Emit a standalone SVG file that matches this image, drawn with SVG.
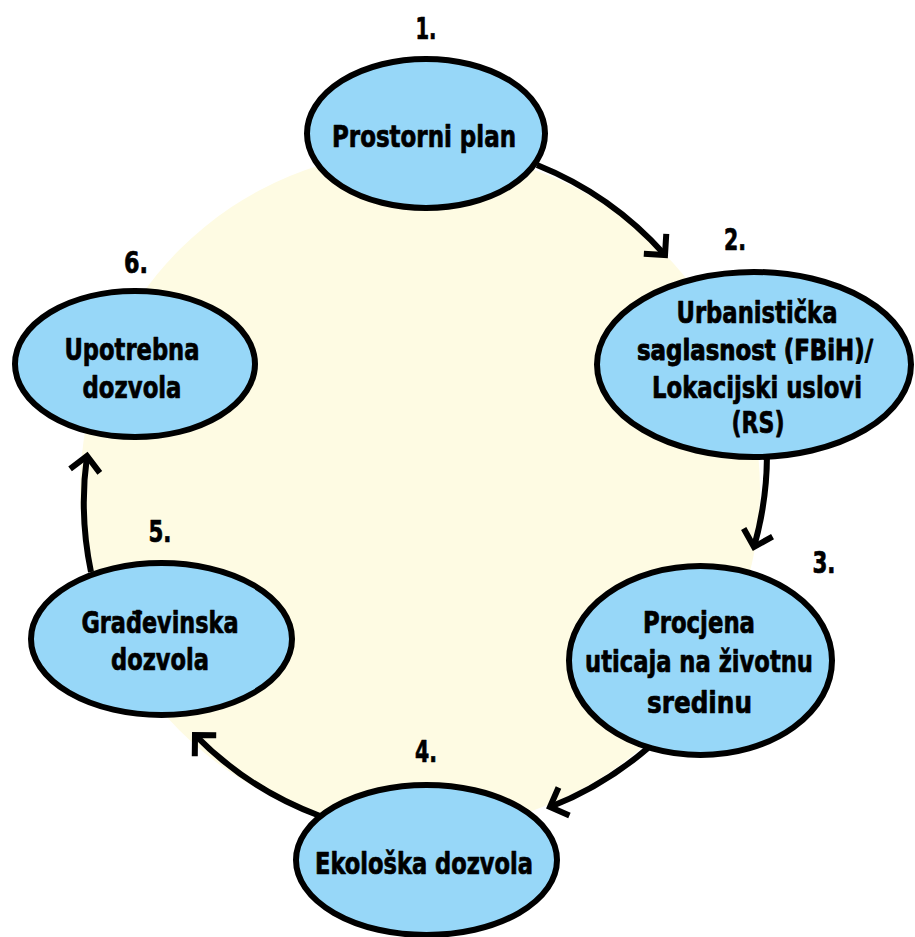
<svg xmlns="http://www.w3.org/2000/svg" width="915" height="937" viewBox="0 0 915 937">
  <style>
    .bg { fill: #FEFBE3; }
    .node ellipse { fill: #97D7F8; stroke: #000; stroke-width: 6; }
    text { font-family: "Liberation Sans Narrow", "DejaVu Sans Condensed", "Roboto Condensed", "Liberation Sans", sans-serif; font-weight: bold; font-stretch: condensed; font-size: 31px; fill: #000; stroke: #000; stroke-width: 0.7; stroke-linejoin: round; text-anchor: middle; }
    text.tight { font-size: 29px; stroke-width: 0.9; }
    .edge { fill: none; stroke: #000; stroke-width: 6; marker-end: url(#chev); }
  </style>
  <defs>
    <marker id="chev" markerUnits="userSpaceOnUse" markerWidth="40" markerHeight="40" refX="0" refY="0" orient="auto" overflow="visible">
      <path d="M -15 -15 L 0 0 L -15 15" fill="none" stroke="#000" stroke-width="6" stroke-linejoin="miter"/>
    </marker>
  </defs>

  <!-- pale backdrop disc behind the cycle -->
  <circle class="bg" cx="420" cy="490" r="340"/>

  <!-- connectors -->
  <g id="connectors">
    <path class="edge" d="M 537 165 A 340 340 0 0 1 665 255"/>
    <path class="edge" d="M 767 455 A 340 340 0 0 1 754 547"/>
    <path class="edge" d="M 648 748 A 340 340 0 0 1 550 807"/>
    <path class="edge" d="M 320 816 A 340 340 0 0 1 195 735"/>
    <path class="edge" d="M 91 572 A 340 340 0 0 1 87 456"/>
  </g>

  <!-- step numbers -->
  <g id="labels">
    <text x="426" y="39" textLength="21" lengthAdjust="spacingAndGlyphs">1.</text>
    <text x="735" y="250" textLength="22" lengthAdjust="spacingAndGlyphs">2.</text>
    <text x="824" y="573" textLength="23" lengthAdjust="spacingAndGlyphs">3.</text>
    <text x="426" y="762" textLength="22" lengthAdjust="spacingAndGlyphs">4.</text>
    <text x="160" y="542" textLength="23" lengthAdjust="spacingAndGlyphs">5.</text>
    <text x="136" y="273" textLength="24" lengthAdjust="spacingAndGlyphs">6.</text>
  </g>

  <g id="node-prostorni-plan" class="node">
    <ellipse cx="426" cy="133.5" rx="119" ry="74.5"/>
    <text x="424" y="147" textLength="184" lengthAdjust="spacingAndGlyphs">Prostorni plan</text>
  </g>

  <g id="node-urbanisticka" class="node">
    <ellipse cx="754" cy="364.5" rx="157" ry="92.5"/>
    <text x="757" y="323" textLength="161" lengthAdjust="spacingAndGlyphs">Urbanistička</text>
    <text class="tight" x="755" y="360" textLength="236" lengthAdjust="spacingAndGlyphs">saglasnost (FBiH)/</text>
    <text x="757" y="398" textLength="210" lengthAdjust="spacingAndGlyphs">Lokacijski uslovi</text>
    <text x="758" y="433" textLength="53" lengthAdjust="spacingAndGlyphs">(RS)</text>
  </g>

  <g id="node-procjena" class="node">
    <ellipse cx="700.5" cy="660.5" rx="131.5" ry="94.5"/>
    <text x="699" y="633" textLength="112" lengthAdjust="spacingAndGlyphs">Procjena</text>
    <text x="699" y="672" textLength="228" lengthAdjust="spacingAndGlyphs">uticaja na životnu</text>
    <text x="699.5" y="713" textLength="105" lengthAdjust="spacingAndGlyphs">sredinu</text>
  </g>

  <g id="node-ekoloska" class="node">
    <ellipse cx="426.5" cy="860" rx="130.5" ry="75"/>
    <text x="424" y="874" textLength="218" lengthAdjust="spacingAndGlyphs">Ekološka dozvola</text>
  </g>

  <g id="node-gradjevinska" class="node">
    <ellipse cx="161.5" cy="639" rx="130.5" ry="76"/>
    <text x="160" y="633" textLength="157" lengthAdjust="spacingAndGlyphs">Građevinska</text>
    <text x="160" y="670" textLength="98" lengthAdjust="spacingAndGlyphs">dozvola</text>
  </g>

  <g id="node-upotrebna" class="node">
    <ellipse cx="135" cy="364" rx="120" ry="73"/>
    <text x="132" y="360" textLength="135" lengthAdjust="spacingAndGlyphs">Upotrebna</text>
    <text x="132" y="398" textLength="99" lengthAdjust="spacingAndGlyphs">dozvola</text>
  </g>
</svg>
